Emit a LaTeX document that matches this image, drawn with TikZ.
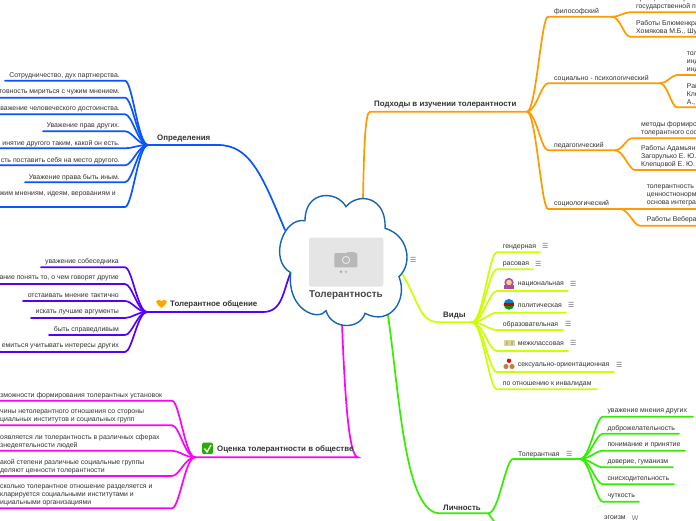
\documentclass[tikz,border=0pt]{standalone}
\usetikzlibrary{calc}
\usepackage{fontspec}
\setmainfont{Liberation Sans}
\newfontfamily\djv{DejaVu Sans}
\definecolor{cblue}{HTML}{0A55FF}
\definecolor{cpurple}{HTML}{5500FF}
\definecolor{cmag}{HTML}{FF00FF}
\definecolor{corange}{HTML}{FF9A00}
\definecolor{clime}{HTML}{CCFF00}
\definecolor{cgreen}{HTML}{33EE00}
\definecolor{ink}{HTML}{333333}
\definecolor{cloudc}{HTML}{1565B0}
\tikzset{
  txt/.style={inner sep=0pt,yshift=-0.8pt,text=ink,font=\fontsize{6.9}{8}\selectfont,align=left},
  head/.style={inner sep=0pt,yshift=-0.8pt,text=ink,font=\fontsize{7.9}{9}\selectfont\bfseries},
  rootlabel/.style={inner sep=0pt,text=ink!90,font=\fontsize{9.9}{11}\selectfont\bfseries},
  menu/.style={inner sep=0pt,text=black!55,font=\fontsize{7}{7}\djv},
  lb/.style={cblue,line width=1.7pt,line cap=round},
  lp/.style={cpurple,line width=1.7pt,line cap=round},
  lm/.style={cmag,line width=1.7pt,line cap=round},
  lo/.style={corange,line width=1.7pt,line cap=round},
  ll/.style={clime,line width=1.7pt,line cap=round},
  lg/.style={cgreen,line width=1.7pt,line cap=round}
}
% #1 line style, #2 hub, #3 knee x, #4 y, #5 end x, #6 id
\newcommand{\limb}[6]{%
  \coordinate (#6k) at (#3,#4);
  \coordinate (#6e) at (#5,#4);
  \coordinate (#6p) at ($(#2)!.43!(#6k)$);
  \coordinate (#6q) at ($(#2)!.68!(#6k)$);
  \draw[#1] (#2) .. controls (#6p |- #2) and (#6q |- #6k) .. (#6k) -- (#6e);}
\begin{document}
\begin{tikzpicture}[x=1pt,y=-1pt]
\useasboundingbox (0,0) rectangle (696,520);
\clip (0,0) rectangle (696,520);
\fill[white] (0,0) rectangle (696,520);

% ---------- cloud anchors
\coordinate (cTop) at (363,198);
\coordinate (cUL) at (285,230);
\coordinate (cLL) at (291,272);
\coordinate (cB) at (342,324);
\coordinate (cBR) at (388,315);
\coordinate (cR) at (402,273);

% ---------- blue
\coordinate (hA) at (148,145);
\coordinate (hAk) at (218,145);
\draw[lb] (cUL) .. controls (262,175) and (250,145) .. (hAk) -- (hA);
\limb{lb}{hA}{125}{80.7}{5}{a1}
\limb{lb}{hA}{125}{97.7}{0}{a2}
\limb{lb}{hA}{125}{114.3}{0}{a3}
\limb{lb}{hA}{125}{131.3}{43}{a4}
\limb{lb}{hA}{125}{148.3}{0}{a5}
\limb{lb}{hA}{125}{165.3}{0}{a6}
\limb{lb}{hA}{125}{182.3}{25}{a7}
\limb{lb}{hA}{125}{207}{0}{a8}
\node[head,anchor=west] (nA) at (157,137.3) {Определения};
\node[txt,anchor=east] (ta1) at (120,74.7) {Сотрудничество, дух партнерства.};
\node[txt,anchor=east] (ta2) at (120,91.7) {товность мириться с чужим мнением.};
\node[txt,anchor=east] (ta3) at (120,108.5) {важение человеческого достоинства.};
\node[txt,anchor=east] (ta4) at (120,125.5) {Уважение прав других.};
\node[txt,anchor=east] (ta5) at (120,142.5) {инятие другого таким, какой он есть.};
\node[txt,anchor=east] (ta6) at (120,159.5) {сть поставить себя на место другого.};
\node[txt,anchor=east] (ta7) at (120,176.5) {Уважение права быть иным.};
\node[txt,anchor=east] (ta8) at (116,193.5) {жим мнениям, идеям, верованиям и};

% ---------- purple
\coordinate (hB) at (147,312);
\coordinate (hBk) at (263,312);
\draw[lp] (cLL) .. controls (283,290) and (283,312) .. (hBk) -- (hB);
\limb{lp}{hB}{125}{267.3}{41}{b1}
\limb{lp}{hB}{125}{284}{0}{b2}
\limb{lp}{hB}{125}{301}{23}{b3}
\limb{lp}{hB}{125}{318}{31}{b4}
\limb{lp}{hB}{125}{335}{49}{b5}
\limb{lp}{hB}{125}{352}{0}{b6}
\node[head,anchor=west] (nB) at (170,303.5) {Толерантное общение};
\fill[orange!70!yellow] (156,301) .. controls (158,299) and (160,300) .. (161.5,301) .. controls (163,300) and (165,299) .. (167,301) .. controls (166,305) and (163,307) .. (161.5,308) .. controls (160,307) and (157,305) .. (156,301) -- cycle;
\node[txt,anchor=east] (tb1) at (119,260.5) {уважение собеседника};
\node[txt,anchor=east] (tb2) at (119,277.5) {ание понять то, о чем говорят другие};
\node[txt,anchor=east] (tb3) at (119,294.5) {отстаивать мнение тактично};
\node[txt,anchor=east] (tb4) at (119,311.5) {искать лучшие аргументы};
\node[txt,anchor=east] (tb5) at (119,328.5) {быть справедливым};
\node[txt,anchor=east] (tb6) at (119,345.5) {емиться учитывать интересы других};

% ---------- magenta
\coordinate (hC) at (195,457.3);
\coordinate (hCk) at (358,457.3);
\draw[lm] (cB) .. controls (345,400) and (349,457) .. (hCk) -- (hC);
\limb{lm}{hC}{172}{400.7}{0}{c1}
\limb{lm}{hC}{172}{425.3}{0}{c2}
\limb{lm}{hC}{172}{450.7}{0}{c3}
\limb{lm}{hC}{172}{476}{0}{c4}
\limb{lm}{hC}{172}{508.3}{0}{c5}
\node[head,anchor=west] (nC) at (217,448.5) {Оценка толерантности в обществе};
\fill[green!60!black!80!lime,rounded corners=1.5pt] (202,442.5) rectangle (213,454);
\draw[white,line width=1.3pt] (204.5,448.5) -- (207,452) -- (211,445);
\node[txt,anchor=west] (tc1) at (0,394.7) {зможности формирования толерантных установок};
\node[txt,anchor=west] (tc2) at (0,415.5) {чины нетолерантного отношения со стороны\\циальных институтов и социальных групп};
\node[txt,anchor=west] (tc3) at (0,440.5) {оявляется ли толерантность в различных сферах\\знедеятельности людей};
\node[txt,anchor=west] (tc4) at (0,465.5) {акой степени различные социальные группы\\деляют ценности толерантности};
\node[txt,anchor=west] (tc5) at (0,494.7) {сколько толерантное отношение разделяется и\\кларируется социальными институтами и\\ициальными организациями};

% ---------- orange
\coordinate (hD) at (527,111.7);
\coordinate (hDk) at (370,111.7);
\draw[lo] (cTop) .. controls (364,150) and (365,111.7) .. (hDk) -- (hD);
\limb{lo}{hD}{548}{16.7}{612}{d1}
\limb{lo}{hD}{548}{83.3}{660}{d2}
\limb{lo}{hD}{548}{150.3}{615}{d3}
\limb{lo}{hD}{548}{209}{620}{d4}
\node[head,anchor=west] (nD) at (374,104) {Подходы в изучении толерантности};
\node[txt,anchor=west] (nd1) at (554,10.5) {философский};
\node[txt,anchor=west] (nd2) at (554,77.5) {социально - психологический};
\node[txt,anchor=west] (nd3) at (554,144.5) {педагогический};
\node[txt,anchor=west] (nd4) at (554,203) {социологический};
\limb{lo}{d1e}{630}{12.3}{696}{e1}
\limb{lo}{d1e}{630}{36.7}{696}{e2}
\limb{lo}{d2e}{677}{75}{696}{e3}
\limb{lo}{d2e}{677}{107.3}{696}{e4}
\limb{lo}{d3e}{632}{138.3}{696}{e5}
\limb{lo}{d3e}{635}{170}{696}{e6}
\limb{lo}{d4e}{632}{209}{696}{e7}
\limb{lo}{d4e}{640}{225.7}{696}{e8}
\node[txt,anchor=west] (te1) at (636,2.7) {принципа толерант\\государственной п};
\node[txt,anchor=west] (te2) at (636,27.3) {Работы Блюменкра\\Хомякова М.Б., Шу};
\node[txt,anchor=west] (te3) at (686.7,61.5) {тол\\инд\\инд};
\node[txt,anchor=west] (te4) at (686.7,93.5) {Рай\\Кле\\А.,};
\node[txt,anchor=west] (te5) at (641,128) {методы формиро\\толерантного соо};
\node[txt,anchor=west] (te6) at (641,156.3) {Работы Адамьян\\Загорулько Е. Ю.\\Клепцовой Е. Ю.};
\node[txt,anchor=west] (te7) at (646.7,194.7) {толерантность\\ценностнонорм\\основа интегра};
\node[txt,anchor=west] (te8) at (646.7,219.3) {Работы Вебера};

% ---------- lime
\coordinate (hE) at (472,322.3);
\coordinate (hEk) at (440,322.3);
\draw[ll] (cR) .. controls (420,305) and (420,322.3) .. (hEk) -- (hE);
\limb{ll}{hE}{497}{252.3}{540}{f1}
\limb{ll}{hE}{497}{269.3}{533}{f2}
\limb{ll}{hE}{497}{291}{568}{f3}
\limb{ll}{hE}{497}{312.7}{566}{f4}
\limb{ll}{hE}{497}{330}{563}{f5}
\limb{ll}{hE}{497}{351}{568}{f6}
\limb{ll}{hE}{497}{372}{614}{f7}
\limb{ll}{hE}{497}{389.3}{597}{f8}
\node[head,anchor=west] (nE) at (443,314.3) {Виды};
\node[txt,anchor=west] (tf1) at (502.7,246.3) {гендерная};
\node[txt,anchor=west] (tf2) at (502.7,263.7) {расовая};
\node[txt,anchor=west] (tf3) at (517.7,283.7) {национальная};
\node[txt,anchor=west] (tf4) at (517.7,304.7) {политическая};
\node[txt,anchor=west] (tf5) at (502.7,323.7) {образовательная};
\node[txt,anchor=west] (tf6) at (517.7,343.3) {межклассовая};
\node[txt,anchor=west] (tf7) at (517.7,364.7) {сексуально-ориентационная};
\node[txt,anchor=west] (tf8) at (502.7,383.7) {по отношению к инвалидам};
\node[menu] (m0) at (413.3,260) {☰};
\node[menu] (m1) at (545.3,246.3) {☰};
\node[menu] (m2) at (538.3,263.7) {☰};
\node[menu] (m3) at (573.3,283.7) {☰};
\node[menu] (m4) at (571.3,304.7) {☰};
\node[menu] (m5) at (568.3,323.7) {☰};
\node[menu] (m6) at (573.3,343.3) {☰};
\node[menu] (m7) at (619.3,364.7) {☰};
% icons
\fill[purple!70!blue!70] (509,282.5) circle (4.6);
\fill[orange!40!white] (509,282.5) circle (2.8);
\fill[purple!70!blue!70] (504,285) rectangle (514,288.8);
\begin{scope}
  \clip (509,304.3) circle (5.4);
  \fill[cyan!60!blue] (503,298) rectangle (515,302.6);
  \fill[red!80!black] (503,302.6) rectangle (515,306.2);
  \fill[green!60!black] (503,306.2) rectangle (515,311);
\end{scope}
\fill[gray!45!yellow!70] (503.5,340) rectangle (514.5,345.5);
\fill[gray!60] (506,340.5) rectangle (508,345);
\fill[gray!60] (510.5,340.5) rectangle (512.5,345);
\fill[red] (509,360.8) circle (2.2);
\fill[brown] (506,366.5) circle (2.6);
\fill[brown] (512,366.5) circle (2.6);

% ---------- green
\coordinate (hF) at (488.3,513.3);
\coordinate (hFk) at (440,513.3);
\draw[lg] (cBR) .. controls (400,400) and (405,513.3) .. (hFk) -- (hF);
\limb{lg}{hF}{513.3}{459}{580}{g0}
\coordinate (hG) at (580,459);
\coordinate (gd) at (496,524);
\draw[lg] (hF) -- (gd);
\limb{lg}{hG}{603}{416.7}{693}{g1}
\limb{lg}{hG}{603}{433.7}{679}{g2}
\limb{lg}{hG}{603}{450.7}{685}{g3}
\limb{lg}{hG}{603}{467.3}{673}{g4}
\limb{lg}{hG}{603}{484.3}{674}{g5}
\limb{lg}{hG}{603}{501.7}{639}{g6}
\node[head,anchor=west] (nF) at (443,506.7) {Личность};
\node[txt,anchor=west] (ng) at (518,453.7) {Толерантная};
\node[menu] (m8) at (569.3,453.7) {☰};
\node[txt,anchor=west] (tg1) at (607.3,410.7) {уважение мнения других};
\node[txt,anchor=west] (tg2) at (607.3,427.7) {доброжелательность};
\node[txt,anchor=west] (tg3) at (607.3,444.7) {понимание и принятие};
\node[txt,anchor=west] (tg4) at (607.3,461.7) {доверие, гуманизм};
\node[txt,anchor=west] (tg5) at (607.3,478.3) {снисходительность};
\node[txt,anchor=west] (tg6) at (607.3,495.3) {чуткость};
\node[txt,anchor=west] (tg7) at (604,517.3) {эгоизм};
\node[txt,anchor=center,text=black!55] (tg8) at (635,517.3) {W};

% ---------- cloud
\path[fill=white,draw=cloudc,line width=1.4pt] (346,206.7)
  .. controls (336.7,190) and (305,190) .. (305,220.7)
  .. controls (283.3,216.7) and (268.3,260) .. (290.7,272.7)
  .. controls (286.7,310) and (318.3,321.7) .. (326,310.7)
  .. controls (331.7,330) and (360,330) .. (365,313.3)
  .. controls (390,326.7) and (408.3,300) .. (399,276.7)
  .. controls (413.3,263.3) and (408.3,235) .. (385,228.3)
  .. controls (386.7,196.7) and (358.3,191.7) .. (346,206.7) -- cycle;
\fill[black!10,rounded corners=2pt] (309,237.7) rectangle (383.3,286.7);
\fill[black!28,rounded corners=1pt] (334.3,253) rectangle (357.3,267.3);
\fill[black!28] (347,251.5) rectangle (355,254);
\draw[black!10,line width=1pt] (346,260) circle (3.6);
\fill[black!35] (341,271.7) circle (1.3);
\fill[black!25] (346,271.7) circle (1.3);
\node[rootlabel] (nRoot) at (346,295) {Толерантность};
\end{tikzpicture}
\end{document}
